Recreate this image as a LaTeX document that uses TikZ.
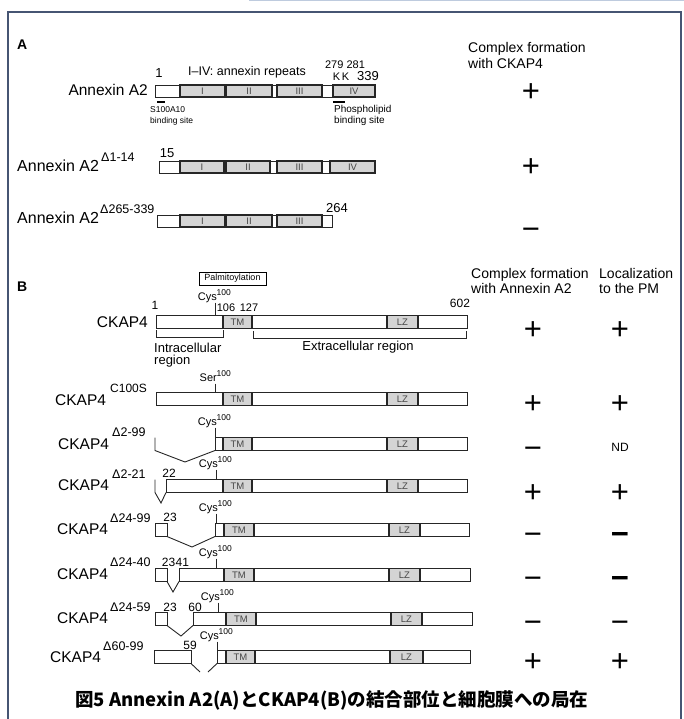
\documentclass[tikz,border=0pt]{standalone}
\usepackage{fontspec}
\setmainfont{Liberation Sans}
\setsansfont{Liberation Sans}
\newfontfamily\cjk{Noto Sans CJK JP}
\definecolor{framec}{RGB}{70,85,115}
\definecolor{topbar}{RGB}{190,203,222}
\definecolor{repfill}{RGB}{212,212,212}
\definecolor{lblgray}{RGB}{70,70,70}
\tikzset{
  fs/.style={font=\fontsize{#1}{#1}\selectfont, inner sep=0pt},
  bar/.style={draw=black!85, line width=0.9pt, fill=white},
  rep/.style={draw=black!85, line width=1.4pt, fill=repfill},
  boxlbl/.style={font=\fontsize{9.5}{9.5}\selectfont, text=lblgray, inner sep=0pt},
  sign/.style={font=\fontsize{31}{31}\selectfont, inner sep=0pt, anchor=base},
  thinline/.style={line width=0.9pt, draw=black!85},
  site/.style={line width=1.6pt},
}
\newcommand\axbar[3]{\draw[bar] (#2,#1-6) rectangle (#3,#1+6);}
\newcommand\axrep[4]{%
  \draw[rep] (#2,#1-6) rectangle (#3,#1+6);
  \node[boxlbl] at ({(#2+#3)/2},#1) {#4};}
\newcommand\ckbar[7]{%
  \draw[bar] (#2,#1-6.5) rectangle (#3,#1+6.5);
  \draw[rep] (#4,#1-6.5) rectangle (#5,#1+6.5);
  \node[boxlbl] at ({(#4+#5)/2},#1) {TM};
  \draw[rep] (#6,#1-6.5) rectangle (#7,#1+6.5);
  \node[boxlbl] at ({(#6+#7)/2},#1) {LZ};}
\newcommand\resmark[4]{%
  \draw[thinline] (#1,#2-#4) -- (#1,#2);
  \node[fs=11, anchor=base east] at (#1+2,#2-#4-2) {#3};
  \node[fs=8.5, anchor=base west] at (#1+1.5,#2-#4-7) {100};}
\newcommand\sgn[3]{\node[sign] at (#1,#2+12) {#3};}
\begin{document}
\begin{tikzpicture}[x=1pt,y=-1pt]
\useasboundingbox (0,0) rectangle (684,719);
% frame
\fill[topbar] (249,-2) rectangle (684,1.5);
\draw[framec, line width=1.5pt] (8,722) -- (8,12) -- (681,12) -- (681,722);

% ---------------- Panel A ----------------
\node[fs=14, anchor=west] (labA) at (17,45) {\bfseries A};
\node[anchor=west, inner sep=0pt, font=\fontsize{14}{16}\selectfont, align=left] (hA) at (468,55) {Complex formation\\with CKAP4};

% Annexin A2 full
\node[fs=15.5, anchor=east] (ax1) at (148,90) {Annexin A2};
\axbar{91}{155}{375}
\axrep{91}{180}{225}{I}
\axrep{91}{226}{272}{II}
\axrep{91}{277}{322}{III}
\axrep{91}{333}{375}{IV}
\node[fs=13] (n1) at (159,73) {1};
\node[fs=12.5] (rep) at (247,72) {I–IV: annexin repeats};
\node[fs=11] (kk1) at (345,65) {279 281};
\node[fs=11] (kk2) at (341,77) {K\,K};
\node[fs=13] (n339) at (368,76) {339};
\draw[site] (157,102) -- (165,102);
\node[anchor=north west, inner sep=0pt, font=\fontsize{8.5}{11}\selectfont, align=left] (s100) at (150,106) {S100A10\\binding site};
\draw[site] (333,102) -- (345,102);
\node[anchor=north west, inner sep=0pt, font=\fontsize{10}{11.5}\selectfont, align=left] (phos) at (334,105) {Phospholipid\\binding site};
\sgn{531}{90}{+}

% Annexin A2 d1-14
\node[fs=16, anchor=west] (ax2) at (17,166) {Annexin A2};
\node[fs=12.5, anchor=west] (ax2s) at (101,157) {Δ1-14};
\node[fs=13] (n15) at (167,153) {15};
\axbar{167}{159}{375}
\axrep{167}{180}{224}{I}
\axrep{167}{226}{270}{II}
\axrep{167}{277}{322}{III}
\axrep{167}{330}{375}{IV}
\sgn{531}{165}{+}

% Annexin A2 d265-339
\node[fs=16, anchor=west] (ax3) at (17,218) {Annexin A2};
\node[fs=12.5, anchor=west] (ax3s) at (100,209) {Δ265-339};
\node[fs=13] (n264) at (337,208) {264};
\axbar{221}{157}{332}
\axrep{221}{180}{225}{I}
\axrep{221}{226}{272}{II}
\axrep{221}{277}{322}{III}
\sgn{531}{227}{−}

% ---------------- Panel B ----------------
\node[fs=14, anchor=west] (labB) at (17,287) {\bfseries B};
\node[anchor=west, inner sep=0pt, font=\fontsize{14}{15.5}\selectfont, align=left] (hB1) at (471,281) {Complex formation\\with Annexin A2};
\node[anchor=west, inner sep=0pt, font=\fontsize{14}{15.5}\selectfont, align=left] (hB2) at (599,281) {Localization\\to the PM};
\node[draw, line width=0.9pt, fs=9, inner sep=0pt, minimum width=67pt, minimum height=13pt] (palm) at (232.5,278.5) {Palmitoylation};

% R1 CKAP4
\node[fs=15.5, anchor=east] (r1) at (148,322) {CKAP4};
\ckbar{322}{156}{467}{223}{252}{387}{418}
\resmark{215}{315.5}{Cys}{13}
\node[fs=12] (r1a) at (155,305) {1};
\node[fs=11] (r1b) at (226,308) {106};
\node[fs=11] (r1c) at (249,308) {127};
\node[fs=12] (r1d) at (460,303) {602};
\draw[thinline] (156,330) -- (156,337) -- (223,337) -- (223,330);
\draw[thinline] (253,331) -- (253,338) -- (466,338) -- (466,331);
\node[anchor=north west, inner sep=0pt, font=\fontsize{13}{12}\selectfont, align=left] (intra) at (154,343) {Intracellular\\region};
\node[fs=13] (extra) at (358,347) {Extracellular region};
\sgn{533}{327}{+}
\sgn{620}{327}{+}

% R2 C100S
\node[fs=15.5, anchor=west] (r2) at (55,400) {CKAP4};
\node[fs=12, anchor=west] (r2s) at (110,388) {C100S};
\ckbar{399}{156}{467}{223}{252}{387}{418}
\resmark{215}{392.5}{Ser}{9}
\sgn{533}{401}{+}
\sgn{620}{401}{+}

% R3 d2-99
\node[fs=15.5, anchor=west] (r3) at (58,444) {CKAP4};
\node[fs=12.5, anchor=west] (r3s) at (112,432) {Δ2-99};
\ckbar{444}{215}{467}{223}{252}{387}{418}
\draw[thinline] (155,437.5) -- (155,450.5) -- (185,462) -- (215,450.5);
\resmark{215}{437.5}{Cys}{10}
\sgn{533}{446}{−}
\node[fs=12] (r3nd) at (620,447) {ND};

% R4 d2-21
\node[fs=15.5, anchor=west] (r4) at (58,485) {CKAP4};
\node[fs=12.5, anchor=west] (r4s) at (112,474) {Δ2-21};
\ckbar{486}{166}{467}{223}{252}{387}{418}
\draw[thinline] (155,479.5) -- (155,492.5) -- (161,503) -- (166,492.5);
\resmark{216}{479.5}{Cys}{10}
\node[fs=12] (r4a) at (169,473) {22};
\sgn{533}{490}{+}
\sgn{620}{490}{+}

% R5 d24-99
\node[fs=15.5, anchor=west] (r5) at (57,529) {CKAP4};
\node[fs=12.5, anchor=west] (r5s) at (110,518) {Δ24-99};
\draw[bar] (155,523.5) rectangle (167,536.5);
\ckbar{530}{215}{469}{224}{254}{389}{420}
\draw[thinline] (167,536.5) -- (192,547) -- (215,536.5);
\resmark{216}{523.5}{Cys}{10}
\node[fs=12] (r5a) at (170,517) {23};
\sgn{533}{532}{−}
\sgn{620}{532}{\bfseries −}

% R6 d24-40
\node[fs=15.5, anchor=west] (r6) at (57,574) {CKAP4};
\node[fs=12.5, anchor=west] (r6s) at (110,562) {Δ24-40};
\draw[bar] (155,568.5) rectangle (167,581.5);
\ckbar{575}{179}{470}{224}{254}{389}{420}
\draw[thinline] (167,581.5) -- (173,592) -- (179,581.5);
\resmark{216}{568.5}{Cys}{10}
\node[fs=12, anchor=east] (r6a) at (175.5,562) {23};
\node[fs=12, anchor=west] (r6b) at (175.5,562) {41};
\sgn{533}{576}{−}
\sgn{620}{576}{\bfseries −}

% R7 d24-59
\node[fs=15.5, anchor=west] (r7) at (57,618) {CKAP4};
\node[fs=12.5, anchor=west] (r7s) at (110,607) {Δ24-59};
\draw[bar] (155,612.5) rectangle (167,625.5);
\ckbar{619}{193}{472}{226}{256}{391}{422}
\draw[thinline] (167,625.5) -- (181,636) -- (193,625.5);
\resmark{218}{612.5}{Cys}{10}
\node[fs=12] (r7a) at (170,607) {23};
\node[fs=12] (r7b) at (195,607) {60};
\sgn{533}{620}{−}
\sgn{620}{620}{−}

% R8 d60-99
\node[fs=15.5, anchor=west] (r8) at (50,657) {CKAP4};
\node[fs=12.5, anchor=west] (r8s) at (103,646) {Δ60-99};
\draw[bar] (154,650.5) rectangle (191,663.5);
\ckbar{657}{217}{470}{226}{255}{390}{423}
\draw[thinline] (191,663.5) -- (200,672);
\draw[thinline] (208,672) -- (217,663.5);
\resmark{217}{650.5}{Cys}{9}
\node[fs=12] (r8a) at (190,645) {59};
\sgn{533}{659}{+}
\sgn{620}{659}{+}

% caption
\node[anchor=west, inner sep=0pt, font=\cjk\bfseries\fontsize{18.5}{18.5}\selectfont] (cap) at (75,700) {図5 Annexin A2(A)とCKAP4(B)の結合部位と細胞膜への局在};
\end{tikzpicture}
\end{document}
